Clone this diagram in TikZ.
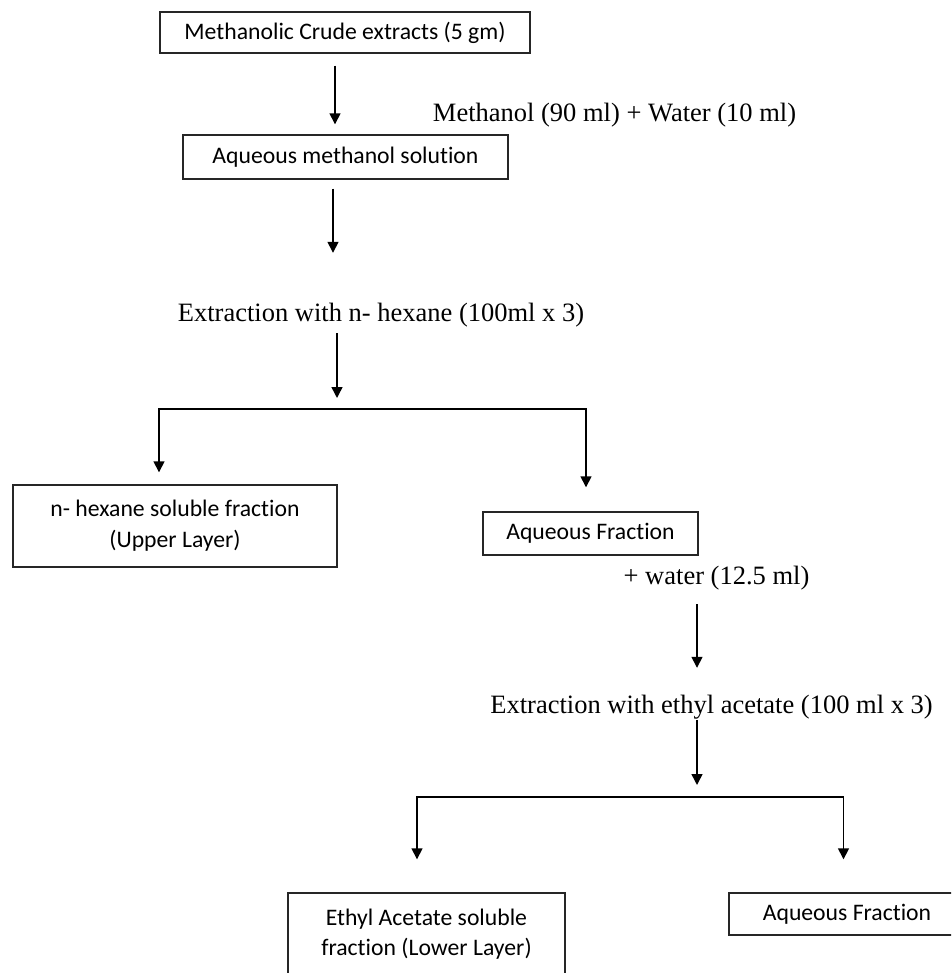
\documentclass[tikz,border=0pt]{standalone}
\usepackage{fontspec}
\setmainfont{Liberation Serif}
\newfontfamily\boxfont[Ligatures=NoCommon]{Carlito}
\usetikzlibrary{arrows.meta}

\begin{document}
\begin{tikzpicture}[x=1pt,y=-1pt,
    box/.style={draw=black!85,line width=1.4pt,inner sep=0pt,align=center,
      font=\boxfont\fontsize{23.7}{31}\selectfont},
    note/.style={inner sep=0pt,text height=18pt,text depth=5pt,
      font=\fontsize{26.5}{30}\selectfont},
    arr/.style={line width=1.5pt,-{Triangle[width=11pt,length=11pt]}}]
  \useasboundingbox (0,0) rectangle (951,973);
  \clip (0,0) rectangle (951,973);

  % steps
  \node[box,minimum width=370pt,minimum height=41pt] (crude) at (345,32.5) {Methanolic Crude extracts (5 gm)};
  \node[note] (methlbl) at (614.5,115) {Methanol (90 ml) + Water (10 ml)};
  \node[box,minimum width=325pt,minimum height=44pt] (aqsol) at (345.5,157) {Aqueous methanol solution};
  \node[note] (hexext) at (381,315) {Extraction with n- hexane (100ml x 3)};
  \node[box,minimum width=324pt,minimum height=82pt] (hexsol) at (175,526) {n- hexane soluble fraction\\(Upper Layer)};
  \node[box,minimum width=215pt,minimum height=43pt] (aqfrac) at (590.5,533.5) {Aqueous Fraction};
  \node[note] (waterlbl) at (716.5,578) {+ water (12.5 ml)};
  \node[note] (ethext) at (711.5,707) {Extraction with ethyl acetate (100 ml x 3)};
  \node[box,minimum width=277pt,minimum height=82pt,font=\boxfont\fontsize{23.7}{30}\selectfont] (ethsol) at (426.5,934) {Ethyl Acetate soluble\\fraction (Lower Layer)};
  \node[box,minimum width=236pt,minimum height=42pt] (aqfrac2) at (847,914) {Aqueous Fraction};

  \coordinate (hsplit) at (337,409);
  \coordinate (esplit) at (697,797);

  % arrows
  \draw[arr] ([xshift=-10pt,yshift=-12pt]crude.south) -- ([xshift=-10.5pt,yshift=10pt]aqsol.north);
  \draw[arr] ([xshift=-12.5pt,yshift=-9pt]aqsol.south) -- ([xshift=-48pt,yshift=50.5pt]hexext.north);
  \draw[arr] ([xshift=-44pt,yshift=-6.5pt]hexext.south) -- ([yshift=11pt]hsplit);
  \draw[arr] (hsplit) -| ([xshift=-16pt,yshift=12pt]hexsol.north);
  \draw[arr] (hsplit) -| ([xshift=-4.5pt,yshift=24pt]aqfrac.north);
  \draw[arr] ([xshift=-19.5pt,yshift=-14.5pt]waterlbl.south) -- ([xshift=-14.5pt,yshift=27.5pt]ethext.north);
  \draw[arr] ([xshift=-14.5pt,yshift=-1.5pt]ethext.south) -- ([yshift=12pt]esplit);
  \draw[arr] (esplit) -| ([xshift=-9.5pt,yshift=33pt]ethsol.north);
  \draw[arr] (esplit) -| ([xshift=-3.5pt,yshift=33pt]aqfrac2.north);
\end{tikzpicture}
\end{document}
